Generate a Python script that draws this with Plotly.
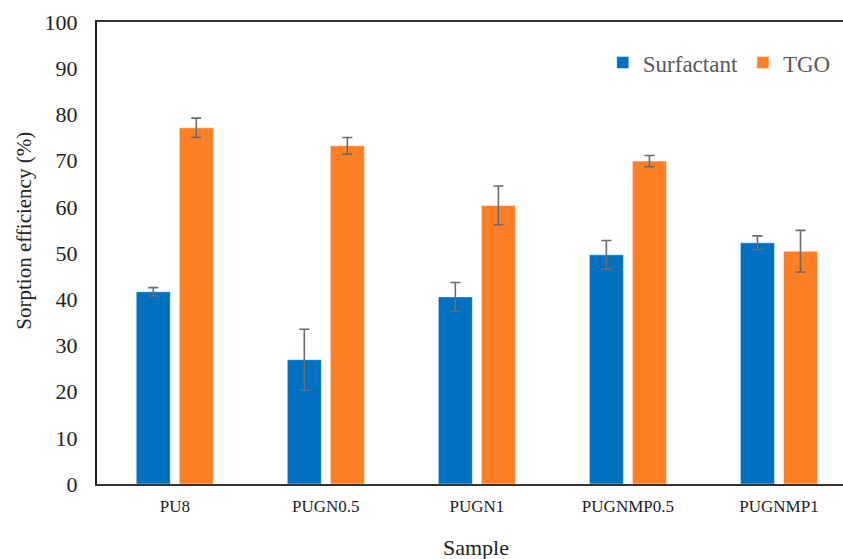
import plotly.graph_objects as go

samples = ["PU8", "PUGN0.5", "PUGN1", "PUGNMP0.5", "PUGNMP1"]
surfactant = [41.6, 26.9, 40.5, 49.6, 52.2]
surfactant_err = [0.9, 6.6, 3.1, 3.1, 1.5]
tgo = [77.1, 73.2, 60.3, 69.9, 50.4]
tgo_err = [2.1, 1.8, 4.2, 1.2, 4.5]

font_family = "Liberation Serif"
err_style = dict(type="data", visible=True, color="#6b6b6b", thickness=1.6, width=5)

fig = go.Figure()
fig.add_trace(go.Bar(
    x=samples, y=surfactant, name="Surfactant",
    marker=dict(color="#0070C0", line=dict(color="rgba(255,255,255,0.45)", width=1)),
    error_y=dict(array=surfactant_err, **err_style),
))
fig.add_trace(go.Bar(
    x=samples, y=tgo, name="TGO",
    marker=dict(color="#FF7F24", line=dict(color="rgba(255,255,255,0.45)", width=1)),
    error_y=dict(array=tgo_err, **err_style),
))

fig.update_layout(
    width=843, height=559,
    margin=dict(l=97, r=0, t=22, b=75, autoexpand=False),
    paper_bgcolor="white", plot_bgcolor="white",
    barmode="group", bargap=0.43, bargroupgap=0.21,
    font=dict(family=font_family, color="#222222"),
    legend=dict(
        orientation="h", x=0.678, y=0.912, xanchor="left", yanchor="middle",
        font=dict(family=font_family, size=23, color="#595959"),
        bgcolor="rgba(0,0,0,0)", itemwidth=30, traceorder="normal",
    ),
    showlegend=True,
    annotations=[
        dict(text="Sorption efficiency (%)", xref="paper", yref="paper",
             x=-0.098, y=0.548, xanchor="center", yanchor="middle", textangle=-90,
             showarrow=False, font=dict(family=font_family, size=21, color="#222222")),
        dict(text="Sample", xref="paper", yref="paper",
             x=0.508, y=-0.1385, xanchor="center", yanchor="middle",
             showarrow=False, font=dict(family=font_family, size=22, color="#222222")),
    ],
)
fig.update_xaxes(
    type="category", range=[-0.515, 4.424],
    showline=True, linecolor="#333333", linewidth=2, mirror=True,
    showgrid=False, ticks="", zeroline=False, ticklabelstandoff=6,
    tickfont=dict(family=font_family, size=17, color="#222222"),
)
fig.update_yaxes(
    range=[0, 100], dtick=10,
    showline=True, linecolor="#222222", linewidth=2, mirror=False,
    showgrid=False, ticks="", zeroline=False, ticklabelstandoff=13,
    tickfont=dict(family=font_family, size=22, color="#222222"),
)

fig.write_html(
    "out.html",
    config={"displayModeBar": False},
    post_script="document.body.style.margin='0';document.body.style.overflow='hidden';",
)
